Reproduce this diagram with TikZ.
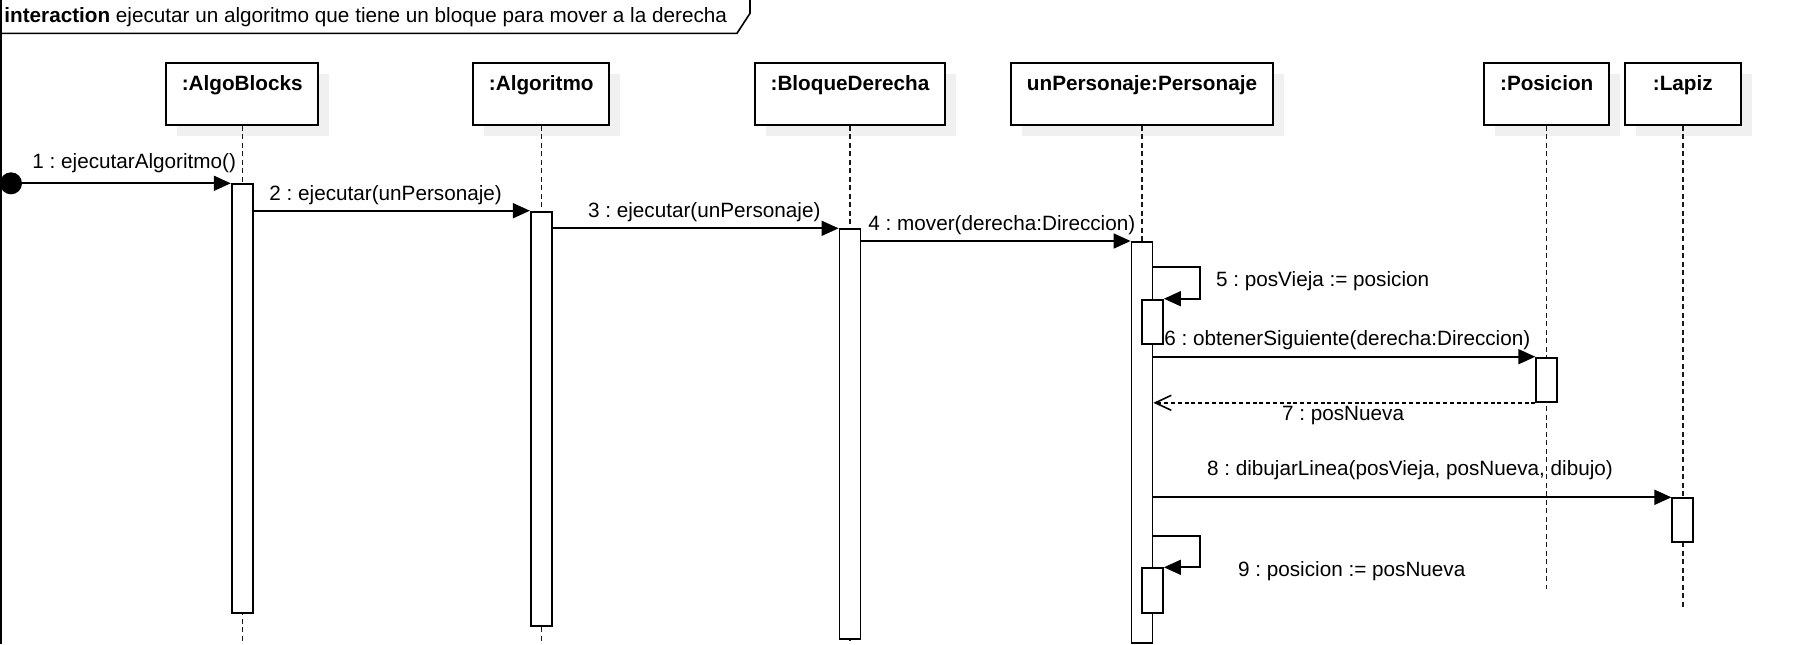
\documentclass[tikz,border=0pt]{standalone}
\usepackage{fontspec}
\setmainfont{Liberation Sans}
\usetikzlibrary{arrows.meta,shadows}
\newcommand\lblfont{\fontsize{10.35pt}{12pt}\selectfont}
\frenchspacing
\begin{document}
\begin{tikzpicture}[x=0.5pt,y=-0.5pt,
  objbox/.style={draw, line width=0.9pt, fill=white, minimum height=31.15pt, inner sep=0pt,
    general shadow={fill=black!6, shadow xshift=5.5pt, shadow yshift=-5.5pt}},
  objname/.style={font=\lblfont\bfseries, inner sep=0pt, anchor=base},
  act/.style={draw, line width=0.9pt, fill=white, minimum width=10.5pt, inner sep=0pt, anchor=north},
  lifeline/.style={draw=black!90, line width=0.7pt, dash pattern=on 2.5pt off 1.75pt},
  msg/.style={line width=0.85pt, -{Triangle[length=8.5pt,width=7.5pt]}},
  ret/.style={line width=0.8pt, dash pattern=on 2pt off 1.4pt, -{Straight Barb[length=8pt,width=7.5pt]}},
  lbl/.style={font=\lblfont, inner sep=0pt, anchor=base west},
  frame/.style={line width=0.8pt}
]
\useasboundingbox (0,0) rectangle (1794,644);

% frame and title
\draw[frame] (0.8,0) -- (0.8,644);
\draw[frame] (0,33.3) -- (737,33.3) -- (750,13.3) -- (750,0);
\node[lbl] (title) at (4,22.7) {\textbf{interaction} ejecutar un algoritmo que tiene un bloque para mover a la derecha};

% object boxes
\node[objbox, minimum width=76.15pt, anchor=north] (b1) at (242.2,61.7) {};
\node[objbox, minimum width=68pt,    anchor=north] (b2) at (541.3,61.7) {};
\node[objbox, minimum width=95pt,    anchor=north] (b3) at (850,61.7) {};
\node[objbox, minimum width=131.3pt, anchor=north] (b4) at (1142,61.7) {};
\node[objbox, minimum width=62.35pt, anchor=north] (b5) at (1546.7,61.7) {};
\node[objbox, minimum width=57.85pt, anchor=north] (b6) at (1682.8,61.7) {};

\node[objname] (t1) at ([yshift=-14.15pt]b1.north) {:AlgoBlocks};
\node[objname] (t2) at ([yshift=-14.15pt]b2.north) {:Algoritmo};
\node[objname] (t3) at ([yshift=-14.15pt]b3.north) {:BloqueDerecha};
\node[objname] (t4) at ([yshift=-14.15pt]b4.north) {unPersonaje:Personaje};
\node[objname] (t5) at ([yshift=-14.15pt]b5.north) {:Posicion};
\node[objname] (t6) at ([yshift=-14.15pt]b6.north) {:Lapiz};

% lifelines
\draw[lifeline] (b1.south) -- (b1.south |- 0,644);
\draw[lifeline] (b2.south) -- (b2.south |- 0,644);
\draw[lifeline] (b3.south) -- (b3.south |- 0,644);
\draw[lifeline] (b4.south) -- (b4.south |- 0,644);
\draw[lifeline] (b5.south) -- (b5.south |- 0,589.3);
\draw[lifeline] (b6.south) -- (b6.south |- 0,610);

% activation bars
\node[act, minimum height=214.5pt]  (a1) at (b1.south |- 0,183.3) {};
\node[act, minimum height=207.15pt] (a2) at (b2.south |- 0,210.7) {};
\node[act, minimum height=205pt]    (a3) at (b3.south |- 0,228.3) {};
\node[act, minimum height=200.65pt] (a4) at (b4.south |- 0,241) {};
\node[act, minimum height=22.3pt]   (n1) at (1152.5,298.7) {};
\node[act, minimum height=22.15pt]  (a5) at (b5.south |- 0,356.7) {};
\node[act, minimum height=21.85pt]  (a6) at (b6.south |- 0,497.3) {};
\node[act, minimum height=22.5pt]   (n2) at (1152.5,567.3) {};

% found message start
\node[circle, fill=black, minimum size=11pt, inner sep=0pt] (dot) at (11,183.3) {};

% messages
\draw[msg] (dot.center) -- (a1.north west);
\draw[msg] (a1.east |- a2.north) -- (a2.north west);
\draw[msg] (a2.east |- a3.north) -- (a3.north west);
\draw[msg] (a3.east |- a4.north) -- (a4.north west);
\coordinate (l5) at (1200,266.7);
\draw[msg] (a4.east |- l5) -- (l5) -- (l5 |- n1.north) -- (n1.north east);
\draw[msg] (a4.east |- a5.north) -- (a5.north west);
\draw[ret] (a5.south west) -- (a4.east |- a5.south);
\draw[msg] (a4.east |- a6.north) -- (a6.north west);
\coordinate (l9) at (1200,535.7);
\draw[msg] (a4.east |- l9) -- (l9) -- (l9 |- n2.north) -- (n2.north east);

% message labels
\node[lbl] (m1) at (32,168.3)    {1 : ejecutarAlgoritmo()};
\node[lbl] (m2) at (269,200)     {2 : ejecutar(unPersonaje)};
\node[lbl] (m3) at (587.7,217)   {3 : ejecutar(unPersonaje)};
\node[lbl] (m4) at (868,230)     {4 : mover(derecha:Direccion)};
\node[lbl] (m5) at (1215.7,286)  {5 : posVieja := posicion};
\node[lbl] (m6) at (1164,345.5)  {6 : obtenerSiguiente(derecha:Direccion)};
\node[lbl] (m7) at (1281.7,420.5){7 : posNueva};
\node[lbl] (m8) at (1206.7,475)  {8 : dibujarLinea(posVieja, posNueva, dibujo)};
\node[lbl] (m9) at (1237.7,576)  {9 : posicion := posNueva};
\end{tikzpicture}
\end{document}
